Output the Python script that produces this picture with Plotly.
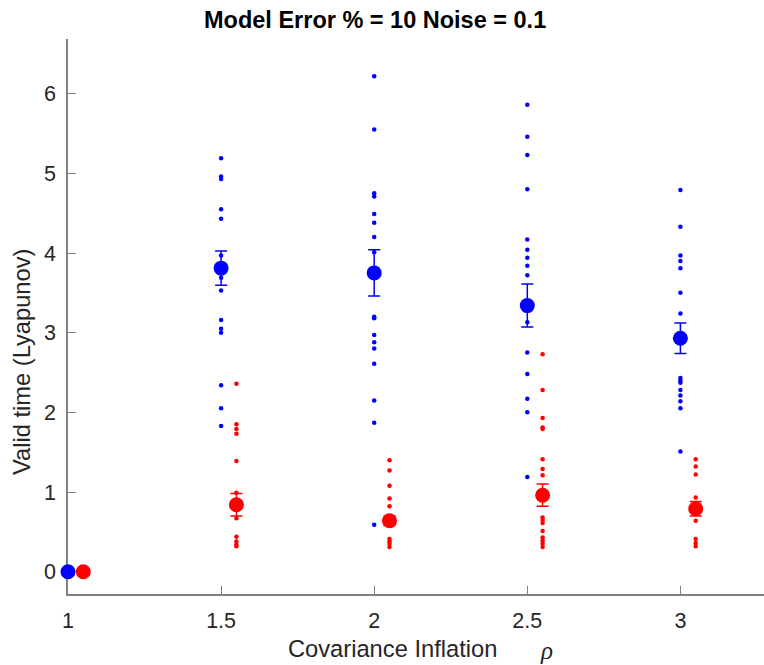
import plotly.graph_objects as go

# ---- data ----
rho = [1, 1.5, 2, 2.5, 3]
offset_red = 0.05

blue_samples = [
    [0, 0, 0],
    [5.19, 4.96, 4.93, 4.55, 4.43, 3.97, 3.69, 3.53, 3.16, 3.05, 3.00, 2.34, 2.05, 1.83],
    [6.22, 5.55, 4.75, 4.71, 4.49, 4.38, 4.20, 4.01, 3.20, 3.18, 2.97, 2.88, 2.80, 2.61, 2.15, 1.87, 0.59],
    [5.86, 5.46, 5.23, 4.80, 4.17, 4.04, 3.94, 3.84, 3.72, 3.13, 2.75, 2.48, 2.17, 2.00, 1.19],
    [4.79, 4.33, 3.97, 3.90, 3.81, 3.50, 3.24, 2.43, 2.40, 2.37, 2.28, 2.21, 2.14, 2.05, 1.51],
]
red_samples = [
    [0, 0, 0],
    [2.36, 1.85, 1.79, 1.73, 1.39, 0.99, 0.67, 0.44, 0.38, 0.34, 0.32],
    [1.40, 1.27, 1.08, 0.92, 0.82, 0.68, 0.41, 0.38, 0.35, 0.31],
    [2.73, 2.28, 1.93, 1.81, 1.79, 1.41, 1.29, 1.21, 0.68, 0.65, 0.61, 0.51, 0.43, 0.39, 0.35, 0.31],
    [1.41, 1.32, 1.22, 0.93, 0.64, 0.41, 0.36, 0.32],
]
blue_mean = [0, 3.81, 3.75, 3.34, 2.93]
blue_se = [0, 0.215, 0.29, 0.27, 0.19]
red_mean = [0, 0.84, 0.64, 0.96, 0.79]
red_se = [0, 0.14, 0.06, 0.14, 0.09]

xticks = [1, 1.5, 2, 2.5, 3]
yticks = [0, 1, 2, 3, 4, 5, 6]

BLUE = "#0000FF"
RED = "#FF0000"

fig = go.Figure()

bx, by, rx, ry = [], [], [], []
for r, bs, rs in zip(rho, blue_samples, red_samples):
    bx += [r] * len(bs)
    by += bs
    rx += [r + offset_red] * len(rs)
    ry += rs

fig.add_trace(go.Scatter(x=bx, y=by, mode="markers", cliponaxis=False,
                         marker=dict(color=BLUE, size=4.5, line=dict(width=0)),
                         showlegend=False, hoverinfo="skip"))
fig.add_trace(go.Scatter(x=rx, y=ry, mode="markers", cliponaxis=False,
                         marker=dict(color=RED, size=4.5, line=dict(width=0)),
                         showlegend=False, hoverinfo="skip"))
fig.add_trace(go.Scatter(x=rho, y=blue_mean, mode="markers", cliponaxis=False,
                         marker=dict(color=BLUE, size=15, line=dict(width=0)),
                         error_y=dict(type="data", array=blue_se, visible=True,
                                      color=BLUE, thickness=1.5, width=6),
                         showlegend=False))
fig.add_trace(go.Scatter(x=[r + offset_red for r in rho], y=red_mean, mode="markers",
                         cliponaxis=False,
                         marker=dict(color=RED, size=15, line=dict(width=0)),
                         error_y=dict(type="data", array=red_se, visible=True,
                                      color=RED, thickness=1.5, width=6),
                         showlegend=False))

W, H = 764, 665
L, R, T, B = 68, 0, 39, 71
pw, ph = W - L - R, H - T - B


def px_x(px):
    return (px - L) / pw


def px_y(py):
    return (H - B - py) / ph


AX = "#808080"
TXT = "#262626"
FONT = "Liberation Sans, Arial, Helvetica, sans-serif"

fig.update_layout(
    width=W, height=H,
    margin=dict(l=L, r=R, t=T, b=B),
    paper_bgcolor="white", plot_bgcolor="white",
    font=dict(family=FONT, color=TXT),
    xaxis=dict(range=[1, 1 + pw / 306.2], tickvals=xticks,
               ticktext=[str(v) for v in xticks],
               showline=True, linecolor=AX, linewidth=1.5, layer="below traces",
               ticks="inside", ticklen=8, tickcolor=AX, tickwidth=1.2,
               showgrid=False, zeroline=False,
               tickfont=dict(size=21.5, color=TXT), ticklabelstandoff=6),
    yaxis=dict(range=[-0.28, 6.686], tickvals=yticks,
               ticktext=[str(v) for v in yticks],
               showline=True, linecolor=AX, linewidth=1.5, layer="below traces",
               ticks="inside", ticklen=8, tickcolor=AX, tickwidth=1.2,
               showgrid=False, zeroline=False,
               tickfont=dict(size=21.5, color=TXT), ticklabelstandoff=6),
    annotations=[
        dict(text="<b>Model Error % = 10 Noise = 0.1</b>", xref="paper", yref="paper",
             x=px_x(375), y=px_y(20), xanchor="center", yanchor="middle",
             showarrow=False, font=dict(size=23.5, color="black", family=FONT)),
        dict(text="Covariance Inflation", xref="paper", yref="paper",
             x=px_x(286), y=px_y(649), xanchor="left", yanchor="middle",
             showarrow=False, font=dict(size=23.7, color=TXT, family=FONT)),
        dict(text="<i>ρ</i>", xref="paper", yref="paper",
             x=px_x(546), y=px_y(650), xanchor="center", yanchor="middle",
             showarrow=False, font=dict(size=25, color=TXT,
                                        family="Liberation Serif, Times New Roman, serif")),
        dict(text="Valid time (Lyapunov)", xref="paper", yref="paper",
             x=px_x(22), y=px_y(362), xanchor="center", yanchor="middle",
             textangle=-90, showarrow=False,
             font=dict(size=23.7, color=TXT, family=FONT)),
    ],
)

fig.write_html("out.html")
